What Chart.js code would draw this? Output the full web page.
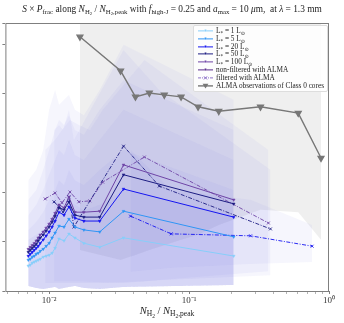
<!DOCTYPE html>
<html>
<head>
<meta charset="utf-8">
<script src="https://cdn.jsdelivr.net/npm/chart.js@4"></script>
<style>
  body { margin: 0; background: #fff; }
  #wrap { position: relative; width: 344px; height: 323px; font-family: "Liberation Serif", "DejaVu Serif", serif; color: #222; }
  #c { position: absolute; left: 0; top: 0; }
  sub { font-size: 72%; vertical-align: -0.3em; line-height: 0; }
  #title { position: absolute; left: 5px; width: 334px; top: 4px; text-align: center; font-size: 9.4px; white-space: nowrap; }
  #xlabel { position: absolute; left: 0; width: 334px; top: 305px; text-align: center; font-size: 10.5px; white-space: nowrap; }
  #legend { position: absolute; left: 193px; top: 25px; width: 133px; height: 64px; background: rgba(255,255,255,0.85);
            border: 1px solid #ddd; border-radius: 2px; font-size: 7.3px; }
  #legend div { height: 7.8px; line-height: 7.8px; white-space: nowrap; position: relative; padding-left: 22px; }
  #legend svg { position: absolute; left: 3px; top: 0; }
</style>
</head>
<body>
<div id="wrap">
  <canvas id="c" width="344" height="323"></canvas>
  <div id="title"><i>S</i> × <i>P</i><sub>frac</sub> along <i>N</i><sub>H<sub>2</sub></sub> / <i>N</i><sub>H<sub>2</sub>,peak</sub> with <i>f</i><sub>high-J</sub> = 0.25 and <i>a</i><sub>max</sub> = 10 <i>μ</i>m,&nbsp; at <i>λ</i> = 1.3 mm</div>
  <div id="xlabel"><i>N</i><sub>H<sub>2</sub></sub> / <i>N</i><sub>H<sub>2</sub>,peak</sub></div>
  <div id="legend"></div>
</div>
<script>
// x positions (N_H2 / N_H2,peak) shared by the non-filtered models
const xModel = [0.0071, 0.00733, 0.00758, 0.00783, 0.00809, 0.00836, 0.00864, 0.00907, 0.00952, 0.01,
                0.0105, 0.01103, 0.01177, 0.01278, 0.01386, 0.01529, 0.01771, 0.023, 0.03403, 0.2085];
const yL1   = [0.51, 0.53, 0.57, 0.59, 0.61, 0.63, 0.65, 0.69, 0.71, 0.73, 0.77, 0.87, 1.06, 1.02, 1.16, 1.08, 0.97, 0.89, 1.08, 0.71];
const yL5   = [0.63, 0.65, 0.69, 0.71, 0.75, 0.77, 0.81, 0.85, 0.91, 0.97, 1.08, 1.18, 1.32, 1.30, 1.46, 1.30, 1.24, 1.20, 1.62, 1.10];
const yL20  = [0.71, 0.75, 0.79, 0.83, 0.87, 0.91, 0.97, 1.04, 1.12, 1.20, 1.30, 1.42, 1.60, 1.54, 1.71, 1.48, 1.42, 1.42, 2.07, 1.50];
const yL50  = [0.79, 0.83, 0.87, 0.91, 0.95, 1.02, 1.08, 1.14, 1.22, 1.30, 1.40, 1.52, 1.69, 1.65, 1.81, 1.54, 1.50, 1.50, 2.36, 1.77];
const yL100 = [0.85, 0.89, 0.93, 0.97, 1.02, 1.08, 1.14, 1.20, 1.28, 1.36, 1.46, 1.58, 1.75, 1.69, 1.91, 1.60, 1.60, 1.62, 2.56, 1.85];

// filtered with ALMA
const xF100 = [0.00937, 0.01103, 0.01236, 0.01409, 0.01632, 0.01953, 0.02415, 0.04796, 0.369];
const yF100 = [1.87, 1.99, 1.79, 2.01, 1.81, 1.83, 2.21, 2.72, 1.38];
const xF50  = [0.01085, 0.01177, 0.01257, 0.01386, 0.01504, 0.03403, 0.06124, 0.3817];
const yF50  = [1.81, 1.71, 1.60, 1.91, 1.30, 2.94, 2.13, 1.26];
const xF20  = [0.03817, 0.07452, 0.2752, 0.7575];
const yF20  = [1.52, 1.16, 1.12, 0.91];

// ALMA observations of Class 0 cores
const xAlma = [0.0166, 0.0324, 0.0414, 0.052, 0.0665, 0.0877, 0.116, 0.163, 0.324, 0.603, 0.877];
const yAlma = [5.16, 4.47, 3.94, 4.02, 3.98, 3.94, 3.74, 3.65, 3.74, 3.61, 2.70];
const almaLo = [0.83, 0.63, 0.73, 0.83, 0.93, 1.04, 1.14, 1.34, 1.65, 1.60, 1.04];
const almaHi = [6, 6, 6, 6, 6, 6, 6, 6, 6, 6, 6];

// spread of the models
const xBand = [0.0071, 0.00809, 0.00907, 0.01, 0.01103, 0.01177, 0.01278, 0.01386, 0.01529, 0.01771, 0.023, 0.03403, 0.2085];
const bandLo = [0.10, 0.06, 0.04, 0.06, 0.08, 0.04, 0.06, 0.08, 0.10, 0.06, 0.04, 0.08, 0.12];
const hiL1   = [1.04, 1.14, 1.24, 1.34, 1.54, 1.75, 1.64, 1.85, 1.75, 1.64, 1.75, 2.05, 1.54];
const hiL5   = [1.24, 1.40, 1.60, 1.85, 2.05, 2.25, 2.15, 2.46, 2.25, 2.15, 2.46, 2.86, 2.05];
const hiL20  = [1.54, 1.75, 2.05, 2.36, 2.66, 2.86, 2.76, 3.07, 2.76, 2.66, 3.07, 3.68, 2.66];
const hiL50  = [1.85, 2.05, 2.46, 2.86, 3.27, 3.47, 3.37, 3.57, 3.27, 3.17, 3.68, 4.28, 3.27];
const hiL100 = [2.25, 2.46, 2.86, 3.68, 4.08, 3.78, 3.88, 3.98, 3.68, 3.57, 4.08, 5.00, 3.88];
const hiF100 = [2.86, 3.07, 3.27, 3.47, 3.37, 3.27, 3.68, 4.69, 2.86];
const loF100 = [0.16, 0.16, 0.16, 0.16, 0.16, 0.16, 0.16, 0.20, 0.40];
const hiF50  = [3.27, 3.37, 3.27, 3.68, 3.07, 4.89, 4.08, 2.46];
const loF50  = [0.20, 0.20, 0.20, 0.20, 0.20, 0.16, 0.22, 0.32];
const hiF20  = [2.86, 2.05, 1.85, 1.34];
const loF20  = [0.39, 0.47, 0.55, 0.59];

const xTickLabels = {0.01: '10⁻²', 0.1: '10⁻¹', 1: '10⁰'};

const colL1 = '#87cefa', colL5 = '#2f95f5', colL20 = '#1414f0', colL50 = '#1c1c82', colL100 = '#6e44a6';
const colAlma = '#777777';
const bandFill = 'rgba(110,100,220,0.058)';

function pts(xs, ys) { return xs.map((x, i) => ({x: x, y: ys[i]})); }

function model(label, xs, ys, color) {
  return {label, data: pts(xs, ys), borderColor: color, backgroundColor: color, borderWidth: 1,
          pointStyle: 'triangle', rotation: 180, pointRadius: 1.6, pointBorderWidth: 0.5, order: 1, fill: false};
}
function filtered(label, xs, ys, color) {
  return {label, data: pts(xs, ys), borderColor: color, backgroundColor: color, borderWidth: 0.9,
          borderDash: [4, 1.5, 1, 1.5], pointStyle: 'crossRot', pointRadius: 2, pointBorderWidth: 0.9, order: 1, fill: false};
}
function band(xs, lo, hi, color, ord) {
  return [
    {label: 'lo', data: pts(xs, lo), borderWidth: 0, pointRadius: 0, fill: false, order: ord},
    {label: 'hi', data: pts(xs, hi), borderWidth: 0, pointRadius: 0, fill: '-1', backgroundColor: color, order: ord}
  ];
}

const datasets = [
  ...band(xAlma, almaLo, almaHi, 'rgba(120,120,120,0.12)', 30),
  ...band(xBand, bandLo, hiL1, bandFill, 20),
  ...band(xBand, bandLo, hiL5, bandFill, 20),
  ...band(xBand, bandLo, hiL20, bandFill, 20),
  ...band(xBand, bandLo, hiL50, bandFill, 20),
  ...band(xBand, bandLo, hiL100, bandFill, 20),
  ...band(xF100, loF100, hiF100, bandFill, 20),
  ...band(xF50, loF50, hiF50, bandFill, 20),
  ...band(xF20, loF20, hiF20, bandFill, 20),
  model('L1', xModel, yL1, colL1),
  model('L5', xModel, yL5, colL5),
  model('L20', xModel, yL20, colL20),
  model('L50', xModel, yL50, colL50),
  model('L100', xModel, yL100, colL100),
  filtered('F20', xF20, yF20, colL20),
  filtered('F50', xF50, yF50, colL50),
  filtered('F100', xF100, yF100, colL100),
  {label: 'ALMA', data: pts(xAlma, yAlma), borderColor: colAlma, backgroundColor: colAlma, borderWidth: 1.4,
   pointStyle: 'triangle', rotation: 180, pointRadius: 3.3, order: 0, fill: false}
];

const minorTicks = [];
[0.001, 0.01, 0.1].forEach(d => { for (let k = 1; k < 10; k++) minorTicks.push(+(k * d).toPrecision(3)); });
minorTicks.push(1);

const frame = {
  id: 'frame',
  afterDraw(chart) {
    const a = chart.chartArea, ctx = chart.ctx;
    ctx.save();
    ctx.strokeStyle = '#7f7f7f';
    ctx.lineWidth = 1;
    ctx.strokeRect(a.left + 0.5, a.top + 0.5, a.right - a.left - 1, a.bottom - a.top);
    ctx.restore();
  }
};

new Chart(document.getElementById('c'), {
  type: 'line',
  data: {datasets},
  options: {
    responsive: false,
    animation: false,
    layout: {padding: {top: 23, right: 15, left: 0, bottom: 0}},
    plugins: {legend: {display: false}, tooltip: {enabled: false}},
    elements: {line: {tension: 0}},
    scales: {
      x: {
        type: 'logarithmic', min: 0.00487, max: 1,
        afterBuildTicks: s => { s.ticks = minorTicks.filter(v => v >= 0.00487 && v <= 1).map(v => ({value: v})); },
        afterFit: s => { s.height = 32; },
        border: {display: false},
        grid: {drawOnChartArea: false, drawTicks: true, tickLength: 3, color: '#7f7f7f',
               lineWidth: c => (xTickLabels[c.tick && c.tick.value] ? 1 : 0.6)},
        ticks: {autoSkip: false, maxRotation: 0, padding: 1, color: '#333',
                font: {family: 'Liberation Serif', size: 9},
                callback: v => xTickLabels[v] || ''}
      },
      y: {
        min: 0, max: 5.44,
        afterFit: s => { s.width = 3; },
        border: {display: false},
        grid: {drawOnChartArea: false, drawTicks: true, tickLength: 3, color: '#7f7f7f'},
        ticks: {display: false, stepSize: 1}
      }
    }
  },
  plugins: [frame]
});

// legend (line + marker icons)
const legendItems = [
  {html: 'L<sub>*</sub> = 1 L<sub>⊙</sub>', color: colL1, marker: 'tri'},
  {html: 'L<sub>*</sub> = 5 L<sub>⊙</sub>', color: colL5, marker: 'tri'},
  {html: 'L<sub>*</sub> = 20 L<sub>⊙</sub>', color: colL20, marker: 'tri'},
  {html: 'L<sub>*</sub> = 50 L<sub>⊙</sub>', color: colL50, marker: 'tri'},
  {html: 'L<sub>*</sub> = 100 L<sub>⊙</sub>', color: colL100, marker: 'tri'},
  {html: 'non-filtered with ALMA', color: '#5a2d8c', marker: 'tri'},
  {html: 'filtered with ALMA', color: '#8c70c8', marker: 'x', dash: true},
  {html: 'ALMA observations of Class 0 cores', color: colAlma, marker: 'bigtri'}
];
const leg = document.getElementById('legend');
leg.style.paddingTop = '1px';
legendItems.forEach(it => {
  let m = '';
  if (it.marker === 'tri') m = `<path d="M7.5,2.6 L9.5,2.6 L8.5,4.8 Z" fill="${it.color}"/>`;
  if (it.marker === 'bigtri') m = `<path d="M5.6,1.8 L11.4,1.8 L8.5,6.4 Z" fill="${it.color}"/>`;
  if (it.marker === 'x') m = `<path d="M6.8,2.2 L10.2,5.6 M10.2,2.2 L6.8,5.6" stroke="${it.color}" stroke-width="0.8"/>`;
  const w = it.marker === 'bigtri' ? 1.4 : 1;
  const dash = it.dash ? 'stroke-dasharray="3,1,1,1"' : '';
  leg.insertAdjacentHTML('beforeend',
    `<div><svg width="18" height="8"><line x1="1" y1="3.9" x2="16" y2="3.9" stroke="${it.color}" stroke-width="${w}" ${dash}/>${m}</svg>${it.html}</div>`);
});
</script>
</body>
</html>
